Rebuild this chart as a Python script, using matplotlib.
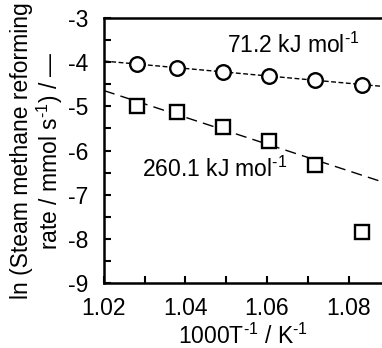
import numpy as np
import matplotlib
matplotlib.use("Agg")
import matplotlib.pyplot as plt
from matplotlib.ticker import MultipleLocator

plt.rcParams["font.family"] = ["Liberation Sans", "DejaVu Sans"]
plt.rcParams["mathtext.fontset"] = "custom"
plt.rcParams["mathtext.rm"] = "Liberation Sans"
plt.rcParams["mathtext.it"] = "Liberation Sans:italic"
plt.rcParams["mathtext.default"] = "rm"
plt.rc("axes", unicode_minus=False)

# data
inv_t = [1.0281, 1.0379, 1.0492, 1.0605, 1.0718, 1.0833]
ln_rate_circ = [-4.04, -4.12, -4.23, -4.31, -4.40, -4.51]
ln_rate_sq = [-4.99, -5.12, -5.47, -5.78, -6.32, -7.85]
n_fit_sq = 5  # last square point left out of the fit

x_lim = (1.02, 1.0882)
x_ticks = [1.02, 1.04, 1.06, 1.08]
y_ticks = [-9, -8, -7, -6, -5, -4, -3]

FS = 16.5

fig = plt.figure(figsize=(3.82, 3.48), dpi=100)
ax = fig.add_axes([0.272, 0.187, 0.728, 0.761])

# fits
xx = np.array(x_lim)
p_c = np.polyfit(inv_t, ln_rate_circ, 1)
p_s = np.polyfit(inv_t[:n_fit_sq], ln_rate_sq[:n_fit_sq], 1)
ax.plot(xx, np.polyval(p_c, xx), color="black", lw=1.0, dashes=(3.5, 1.8), zorder=1)
ax.plot(xx, np.polyval(p_s, xx), color="black", lw=1.0, dashes=(8, 4.5), zorder=1)

ax.plot(inv_t, ln_rate_circ, "o", ms=10.5, mfc="white", mec="black", mew=1.7,
        zorder=3, clip_on=False)
ax.plot(inv_t, ln_rate_sq, "s", ms=10.5, mfc="white", mec="black", mew=1.7,
        zorder=3, clip_on=False)

ax.text(1.0502, -3.79, "71.2 kJ mol$^{\u2010\mathregular{1}}$", fontsize=FS,
        ha="left", va="baseline")
ax.text(1.0293, -6.59, "260.1 kJ mol$^{\u2010\mathregular{1}}$", fontsize=FS,
        ha="left", va="baseline")

ax.set_xlim(*x_lim)
ax.set_ylim(-9, -3)
ax.set_xticks(x_ticks)
ax.set_xticklabels([f"{t:.2f}" for t in x_ticks])
ax.set_yticks(y_ticks)
ax.xaxis.set_minor_locator(MultipleLocator(0.01))
ax.yaxis.set_minor_locator(MultipleLocator(0.5))
ax.tick_params(which="both", direction="in", length=5, width=1.5, labelsize=FS)
ax.tick_params(axis="x", pad=10)
ax.tick_params(axis="y", pad=11)
ax.tick_params(top=False, right=False, which="both")

for s in ["left", "bottom", "top"]:
    ax.spines[s].set_linewidth(1.8)
ax.spines["right"].set_visible(False)

ax.set_xlabel("1000T$^{\u2010\mathregular{1}}$ / K$^{\u2010\mathregular{1}}$", fontsize=FS, labelpad=3)
ax.set_ylabel("ln (Steam methane reforming\nrate / mmol s$^{\u2010\mathregular{1}}$) / \u2014",
              fontsize=FS, labelpad=2, linespacing=1.1)

fig.savefig("out.png", dpi=100)
